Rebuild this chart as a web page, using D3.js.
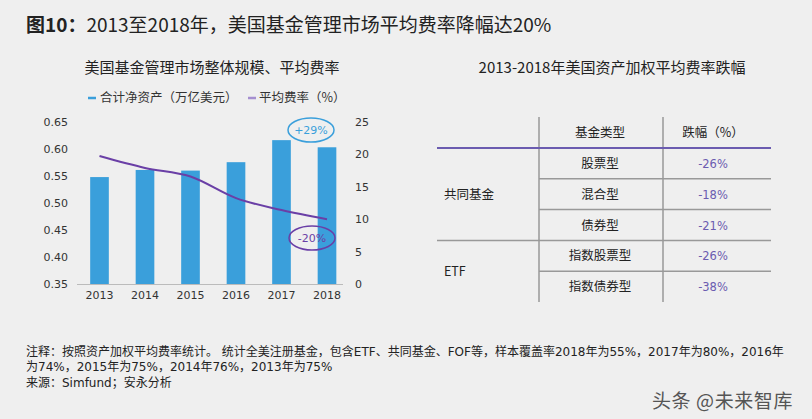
<!DOCTYPE html>
<html><head><meta charset="utf-8">
<script src="https://cdn.jsdelivr.net/npm/d3@7"></script>
<style>
html,body{margin:0;padding:0;background:#efefef;}
svg{display:block;}
text{font-family:"Noto Sans CJK SC","Noto Sans",sans-serif;}
text.num{font-family:"DejaVu Sans",Verdana,sans-serif;}
text.foot{font-family:"DejaVu Sans","Noto Sans CJK SC",sans-serif;}
</style></head>
<body>
<svg id="c" width="812" height="419"></svg>
<script>
const years = ["2013","2014","2015","2016","2017","2018"];
const netAssets = [16.5, 17.6, 17.5, 18.8, 22.2, 21.1];      // 万亿美元 (right axis)
const avgFee = [0.587, 0.565, 0.549, 0.509, 0.487, 0.470];    // % (left axis)
const leftTicks = [0.35,0.40,0.45,0.50,0.55,0.60,0.65];
const rightTicks = [0,5,10,15,20,25];
const tableGroups = ["共同基金","ETF"];
const fundTypes = ["股票型","混合型","债券型","指数股票型","指数债券型"];
const fundGroupIdx = [0,0,0,1,1];
const declines = ["-26%","-18%","-21%","-26%","-38%"];
const footLines = [
 "注释：按照资产加权平均费率统计。 统计全美注册基金，包含ETF、共同基金、FOF等，样本覆盖率2018年为55%，2017年为80%，2016年",
 "为74%，2015年为75%，2014年76%，2013年为75%",
 "来源：Simfund；安永分析"
];

const svg = d3.select("#c");
const BLUE = "#3a9fdb", PURPLE = "#6a3fa6", TPURPLE = "#6b5cb0";

// Title
const t = svg.append("text").attr("x",26).attr("y",32).attr("font-size",19).attr("fill","#222");
t.append("tspan").attr("font-weight","bold").text("图10：");
t.append("tspan").text("2013至2018年，美国基金管理市场平均费率降幅达20%");

// Left chart
svg.append("text").attr("x",212).attr("y",73).attr("text-anchor","middle").attr("font-size",15).attr("fill","#222")
  .text("美国基金管理市场整体规模、平均费率");

// legend
svg.append("line").attr("x1",88).attr("x2",96).attr("y1",98).attr("y2",98).attr("stroke",BLUE).attr("stroke-width",2.5);
svg.append("text").attr("x",100).attr("y",102).attr("font-size",12.5).attr("fill","#333").text("合计净资产（万亿美元）");
svg.append("line").attr("x1",248).attr("x2",256).attr("y1",98).attr("y2",98).attr("stroke","#a58fd0").attr("stroke-width",2.5);
svg.append("text").attr("x",259).attr("y",102).attr("font-size",12.5).attr("fill","#333").text("平均费率（%）");

const x = d3.scaleBand().domain(years).range([76.75,349.75]).paddingInner(0.59).paddingOuter(0.295);
const yL = d3.scaleLinear().domain([0.35,0.65]).range([284,122]);
const yR = d3.scaleLinear().domain([0,25]).range([284,122]);

svg.append("g").selectAll("rect").data(years).join("rect")
  .attr("x",d=>x(d)).attr("width",x.bandwidth())
  .attr("y",(d,i)=>yR(netAssets[i])).attr("height",(d,i)=>yR(0)-yR(netAssets[i]))
  .attr("fill",BLUE);

// axis line
svg.append("line").attr("x1",77).attr("x2",343).attr("y1",284.5).attr("y2",284.5).attr("stroke","#bbb").attr("stroke-width",1);

const axL = d3.axisLeft(yL).tickValues(leftTicks).tickFormat(d3.format(".2f")).tickSize(0).tickPadding(0);
const gL = svg.append("g").attr("transform","translate(68,0)").call(axL);
gL.select(".domain").remove();
gL.selectAll("text").attr("class","num").attr("font-size",11).attr("fill","#333");

const axR = d3.axisRight(yR).tickValues(rightTicks).tickSize(0).tickPadding(0);
const gR = svg.append("g").attr("transform","translate(355,0)").call(axR);
gR.select(".domain").remove();
gR.selectAll("text").attr("class","num").attr("font-size",11).attr("fill","#333");

const axB = d3.axisBottom(x).tickSize(0).tickPadding(0);
const gB = svg.append("g").attr("transform","translate(0,291)").call(axB);
gB.select(".domain").remove();
gB.selectAll("text").attr("class","num").attr("font-size",11).attr("fill","#333").attr("dy","0.71em");

const line = d3.line().x((d,i)=>x(years[i])+x.bandwidth()/2).y(d=>yL(d)).curve(d3.curveMonotoneX);
svg.append("path").datum(avgFee).attr("d",line).attr("fill","none").attr("stroke",PURPLE).attr("stroke-width",2);

// annotations
const last = years.length-1;
const ax = x(years[last])+x.bandwidth()/2 - 16;
svg.append("ellipse").attr("cx",ax).attr("cy",130).attr("rx",23).attr("ry",12).attr("fill","#efefef").attr("stroke",BLUE).attr("stroke-width",1.5);
svg.append("text").attr("class","num").attr("x",ax).attr("y",134).attr("text-anchor","middle").attr("font-size",11).attr("fill",BLUE).text("+29%");
svg.append("ellipse").attr("cx",ax+1).attr("cy",238).attr("rx",23).attr("ry",12).attr("fill","none").attr("stroke",PURPLE).attr("stroke-width",1.5);
svg.append("text").attr("class","num").attr("x",ax+1).attr("y",242).attr("text-anchor","middle").attr("font-size",11).attr("fill",PURPLE).text("-20%");

// Right table
svg.append("text").attr("x",612).attr("y",73).attr("text-anchor","middle").attr("font-size",15).attr("fill","#222")
  .text("2013-2018年美国资产加权平均费率跌幅");

const rowY = d3.scaleBand().domain(fundTypes).range([148,302]);
const GRAY = "#999";
[539,663].forEach(v=>svg.append("line").attr("x1",v).attr("x2",v).attr("y1",117).attr("y2",302).attr("stroke",GRAY).attr("stroke-width",1.5));
svg.append("text").attr("x",600).attr("y",137).attr("text-anchor","middle").attr("font-size",12.5).attr("fill","#222").text("基金类型");
svg.append("text").attr("x",713).attr("y",137).attr("text-anchor","middle").attr("font-size",12.5).attr("fill","#222").text("跌幅（%）");
fundTypes.forEach((f,i)=>{
  if(i===0) return;
  const full = fundGroupIdx[i]!==fundGroupIdx[i-1];
  svg.append("line").attr("x1",full?437:539).attr("x2",771).attr("y1",rowY(f)).attr("y2",rowY(f)).attr("stroke",GRAY).attr("stroke-width",1.5);
});
svg.append("line").attr("x1",437).attr("x2",771).attr("y1",148).attr("y2",148).attr("stroke","#6b5cb0").attr("stroke-width",2);
fundTypes.forEach((f,i)=>{
  const cy = rowY(f)+rowY.bandwidth()/2;
  svg.append("text").attr("x",600).attr("y",cy+4.5).attr("text-anchor","middle").attr("font-size",12.5).attr("fill","#222").text(f);
  svg.append("text").attr("class","num").attr("x",713).attr("y",cy+4.5).attr("text-anchor","middle").attr("font-size",11.5).attr("fill",TPURPLE).text(declines[i]);
});
tableGroups.forEach((g,gi)=>{
  const idx = fundGroupIdx.map((v,i)=>v===gi?i:-1).filter(i=>i>=0);
  const y0 = rowY(fundTypes[idx[0]]), y1 = rowY(fundTypes[idx[idx.length-1]])+rowY.bandwidth();
  svg.append("text").attr("x",444).attr("y",(y0+y1)/2+4.5).attr("font-size",12.5).attr("fill","#222").text(g);
});

// footnotes
footLines.forEach((l,i)=>{
  svg.append("text").attr("class","foot").attr("x",26).attr("y",356+i*15.3).attr("font-size",12).attr("fill","#222").text(l);
});
// watermark
svg.append("text").attr("x",652).attr("y",408).attr("font-size",19).attr("letter-spacing",0.6).attr("fill","#555").text("头条 @未来智库");
</script>
</body></html>
